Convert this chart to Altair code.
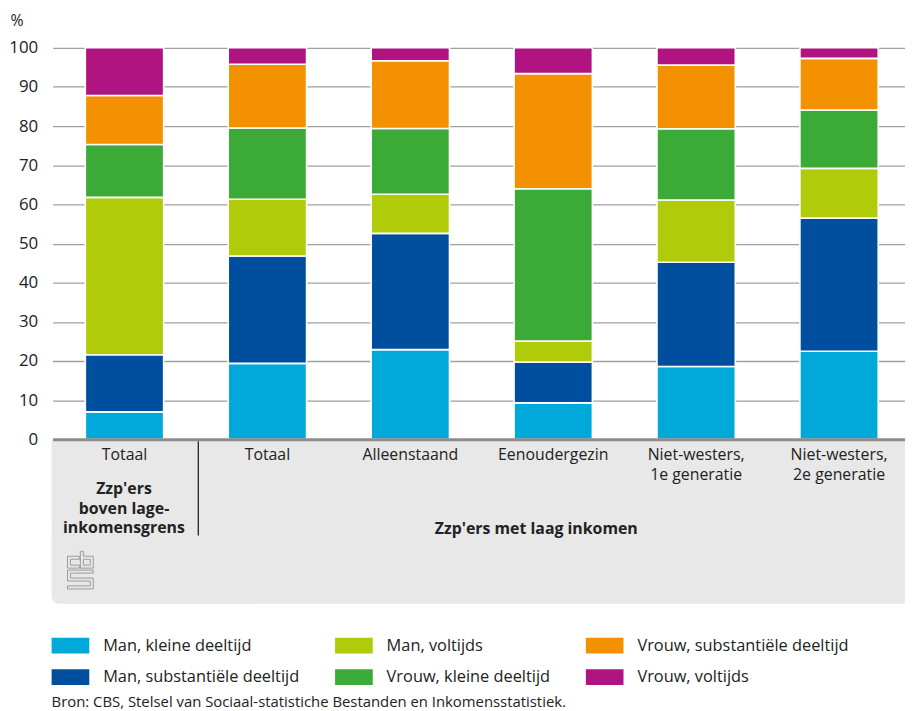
import altair as alt
import pandas as pd
from urllib.parse import quote

# ---- data ----
categories = ["boven_totaal", "laag_totaal", "alleenstaand", "eenoudergezin", "nw1", "nw2"]
category_labels = [["Totaal"], ["Totaal"], ["Alleenstaand"], ["Eenoudergezin"],
                   ["Niet-westers,", "1e generatie"], ["Niet-westers,", "2e generatie"]]
series = ["Man, kleine deeltijd", "Man, substantiële deeltijd", "Man, voltijds",
          "Vrouw, kleine deeltijd", "Vrouw, substantiële deeltijd", "Vrouw, voltijds"]
man_kleine = [7.0, 19.4, 22.9, 9.3, 18.6, 22.5]
man_subst = [14.6, 27.4, 29.7, 10.4, 26.6, 34.0]
man_voltijds = [40.2, 14.5, 10.0, 5.4, 15.9, 12.7]
vrouw_kleine = [13.5, 18.2, 16.8, 38.9, 18.2, 14.9]
vrouw_subst = [12.5, 16.3, 17.3, 29.4, 16.3, 13.2]
vrouw_voltijds = [12.2, 4.2, 3.3, 6.6, 4.4, 2.7]
series_colors = ["#00a9d9", "#004f9f", "#afcb0a", "#3caa36", "#f39100", "#af1480"]
y_ticks = [0, 10, 20, 30, 40, 50, 60, 70, 80, 90, 100]
group_left = "Zzp'ers\nboven lage-\ninkomensgrens"
group_right = "Zzp'ers met laag inkomen"
source_text = "Bron: CBS, Stelsel van Sociaal-statistiche Bestanden en Inkomensstatistiek."

values = [man_kleine, man_subst, man_voltijds, vrouw_kleine, vrouw_subst, vrouw_voltijds]
rows = []
for si, (s, vals) in enumerate(zip(series, values)):
    for ci, c in enumerate(categories):
        rows.append({"categorie": c, "reeks": s, "waarde": vals[ci], "volgorde": si})
df = pd.DataFrame(rows)

FONT = "Open Sans"
TXT = "#222222"

label_expr = "{}[indexof({}, datum.value)]".format(
    str(category_labels).replace('"', "'"), str(categories).replace('"', "'"))

bars = alt.Chart(df).mark_bar(stroke="white", strokeWidth=1.6).encode(
    x=alt.X("categorie:N", sort=categories,
            scale=alt.Scale(range=[0, 866], paddingInner=0.452, paddingOuter=0.229),
            axis=alt.Axis(title=None, labelAngle=0, ticks=False, labelExpr=label_expr,
                          labelFontSize=16, labelColor=TXT, labelFont=FONT,
                          labelPadding=7, labelLineHeight=21, labelBaseline="top",
                          domainColor="#8c8c8c", domainWidth=3, zindex=1,
                          labelOverlap=False)),
    y=alt.Y("waarde:Q", stack="zero",
            scale=alt.Scale(domain=[0, 100], nice=False),
            axis=alt.Axis(values=y_ticks, title="%", titleAngle=0, titleX=-43, titleY=-27,
                          titleAlign="left", titleBaseline="middle", titleFontSize=16,
                          titleFontWeight="normal", titleColor=TXT, titleFont=FONT,
                          domain=False, ticks=False, tickSize=0, labelPadding=15,
                          labelFontSize=17, labelColor=TXT, labelFont=FONT,
                          gridColor="#a0a0a0", gridWidth=1.3)),
    color=alt.Color("reeks:N",
                    scale=alt.Scale(domain=series, range=series_colors),
                    legend=alt.Legend(orient="none", legendX=-1, legendY=584, columns=3,
                                      title=None, symbolType="M-1,-0.42L1,-0.42L1,0.42L-1,0.42Z",
                                      symbolSize=1444, symbolStrokeWidth=0, symbolOpacity=1,
                                      labelFontSize=16.5, labelColor=TXT, labelFont=FONT,
                                      labelOffset=14, labelLimit=400, rowPadding=4,
                                      columnPadding=36, padding=0)),
    order=alt.Order("volgorde:Q", sort="ascending"),
)

one = pd.DataFrame({"k": [0]})

panel = alt.Chart(one).mark_rect(color="#e8e8e8", cornerRadiusBottomLeft=8).encode(
    x=alt.value(-1), x2=alt.value(866), y=alt.value(396), y2=alt.value(561))

separator = alt.Chart(one).mark_rule(color="#222222", strokeWidth=1.3).encode(
    x=alt.value(147), y=alt.value(397), y2=alt.value(492))

left_lab = alt.Chart(pd.DataFrame({"t": [group_left]})).mark_text(
    font=FONT, fontSize=16, fontWeight="bold", color=TXT, lineBreak="\n",
    lineHeight=20, align="center", baseline="middle").encode(
    x=alt.value(72), y=alt.value(445), text="t:N")

right_lab = alt.Chart(pd.DataFrame({"t": [group_right]})).mark_text(
    font=FONT, fontSize=16, fontWeight="bold", color=TXT,
    align="center", baseline="middle").encode(
    x=alt.value(488), y=alt.value(486), text="t:N")

# CBS logo as a small inline SVG image
logo_svg = (
    "<svg xmlns='http://www.w3.org/2000/svg' width='28' height='40' viewBox='-14 -20 28 40'>"
    "<path fill='none' stroke='#9a9a9a' stroke-width='1' d='"
    "M-1,-14L-13,-14L-13,-2L-1,-2L-1,-5L-10,-5L-10,-11L-1,-11Z "
    "M0,-19L3,-19L3,-14L13,-14L13,-2L0,-2Z M3,-11L10,-11L10,-5L3,-5Z "
    "M13,0L-13,0L-13,11L10,11L10,16L-13,16L-13,19L13,19L13,8L-10,8L-10,3L13,3Z'/></svg>"
)
logo_uri = "data:image/svg+xml;charset=utf-8," + quote(logo_svg)
logo = alt.Chart(one).mark_image(width=28, height=40).encode(
    x=alt.value(28), y=alt.value(527), url=alt.value(logo_uri))

source = alt.Chart(pd.DataFrame({"t": [source_text]})).mark_text(
    font=FONT, fontSize=15, color=TXT, align="left", baseline="middle").encode(
    x=alt.value(-1), y=alt.value(660), text="t:N")

chart = alt.layer(panel, separator, bars, left_lab, right_lab, logo, source).properties(
    width=860, height=395,
    autosize=alt.AutoSizeParams(type="none"),
    padding={"left": 45, "top": 37, "right": 0, "bottom": 271},
).configure(font=FONT).configure_view(stroke=None)

chart.save("out.html", embed_options={"renderer": "svg", "actions": False})
